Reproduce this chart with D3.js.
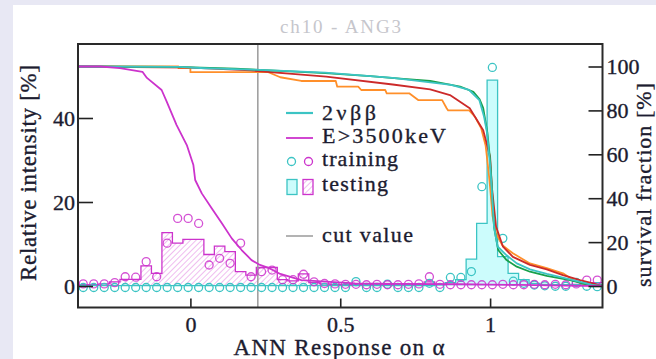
<!DOCTYPE html>
<html>
<head>
<meta charset="utf-8">
<script src="https://cdn.jsdelivr.net/npm/d3@7"></script>
<style>
  html, body { margin: 0; padding: 0; background: #e8e8f4; }
  svg { display: block; }
  text { font-family: "Liberation Serif", "DejaVu Serif", serif; }
</style>
</head>
<body>
<svg id="chart" width="656" height="359"></svg>
<script>
// ---- binning of the ANN response histograms ----
const binStart = -0.375;
const binWidth = 0.035;

// training samples (open circles), relative intensity [%] per bin
const trainSignal = [0,0,0,0,0,0,0,0,0,0, 0,0,0,0,0,0,0,0,0,0, 0,0,0,0,0,0,1.4,0,0,0.8,
                     0,0,0,1.0,0,2.4,2.4,3.8,24.0,52.4, 11.7,1.5,1.0,0.6,0.4,0.3,0.3,1.2,0.3,0.2];
const trainBackground = [0.5,0.5,0.5,0.8,2.2,2.1,5.8,2.2,10.2,16.1, 16.1,14.9,5.0,6.6,5.4,10.2,2.2,3.4,3.8,1.5,
                         1.5,2.8,1.0,0.6,0.5,0.4,0.4,0.3,0.4,0.3, 0.3,0.4,0.5,2.2,0.4,0.3,0.3,0.3,0.3,0.3,
                         0.4,0.3,0.3,0.4,0.3,0.4,0.3,0.5,1.4,1.4];

// testing samples (histograms), relative intensity [%] per bin
const testSignal = [0.1,0.1,0.1,0.1,0.1,0.1,0.1,0.1,0.1,0.1, 0.1,0.1,0.1,0.1,0.1,0.1,0.1,0.1,0.1,0.1,
                    0.1,0.1,0.1,0.1,0.1,0.1,0.1,0.1,0.1,0.1, 0.1,0.1,0.1,0.1,0.3,0.8,1.5,6.4,14.9,49.0,
                    7.0,3.0,1.5,0.6,0.4,0.3,0.3,0.3,0.3,0.3];
const testBackground = [0.3,0.3,0.5,1.0,1.6,1.6,4.8,3.0,12.7,10.2, 11.1,11.1,7.5,9.5,8.2,3.4,2.6,4.4,4.4,1.5,
                        1.2,2.9,0.8,0.5,0.4,0.3,0.3,0.3,0.3,0.3, 0.3,0.3,0.4,1.0,0.3,0.3,0.3,0.3,0.3,0.3,
                        0.3,0.3,0.3,0.3,0.3,0.3,0.3,0.4,0.8,0.8];

// survival fraction [%] vs. cut on the ANN response
const survSignalTest = [[-0.375,100],[-0.05,99.8],[0.15,99.0],[0.3,98.0],[0.45,97.0],[0.6,95.6],[0.7,94.5],
  [0.8,93.4],[0.9,90.8],[0.944,88.5],[0.965,85],[0.977,81],[0.991,69.7],[1.0,57.4],[1.005,47],[1.013,27],
  [1.027,16.4],[1.055,11.8],[1.089,8.8],[1.133,6.5],[1.189,4.6],[1.267,2.7],[1.343,0],[1.375,0]];
const survSignalTrain = [[-0.375,100],[-0.04,99.8],[0.05,99.2],[0.2,98.6],[0.45,97.2],[0.675,94.8],
  [0.87,91.6],[0.93,89.3],[0.964,84.7],[0.98,77],[0.99,69.7],[1.0,55],[1.005,45],[1.013,27],[1.025,18],
  [1.055,14],[1.089,10.3],[1.133,7.6],[1.189,5.5],[1.267,3],[1.34,0.5],[1.375,0]];
const survRefA = [[-0.375,100],[0.0,99.5],[0.2,98.2],[0.35,96.5],[0.453,95.4],[0.675,91.8],[0.8,89.6],
  [0.866,87],[0.932,81],[0.977,71],[1.0,58.9],[1.006,45],[1.02,27],[1.043,17.9],[1.076,13.3],[1.133,9.6],
  [1.189,7.6],[1.243,5],[1.3,2.7],[1.343,1.2],[1.375,0]];
const survRefB = [[-0.375,100],[-0.04,100],[-0.04,99.3],[0.0,99.3],[0.0,97.4],[0.26,97.4],[0.3,95.1],
  [0.37,93.4],[0.485,93.4],[0.49,90.8],[0.56,90.8],[0.57,89.3],[0.65,89.3],[0.655,87.8],[0.73,87.8],
  [0.76,84.7],[0.84,84.7],[0.855,81],[0.86,80],[0.93,80],[0.95,77],[0.97,72],[0.985,64],[0.995,52],
  [1.0,45],[1.008,32],[1.02,24],[1.04,18.7],[1.076,14.9],[1.133,10.3],[1.189,8.1],[1.243,5.8],
  [1.278,2.7],[1.32,0.5],[1.343,0],[1.375,0]];
const survBackground = [[-0.375,100],[-0.30,100],[-0.235,99.3],[-0.16,97.6],[-0.145,94.8],[-0.096,89.3],
  [-0.079,84],[-0.046,73.3],[-0.012,64.2],[0.010,55.1],[0.016,48.3],[0.038,42.2],[0.071,35.4],[0.105,28.6],
  [0.138,21.7],[0.171,16.4],[0.204,11.8],[0.232,9.6],[0.265,8.0],[0.30,5.5],[0.37,2.7],[0.45,2.0],
  [0.55,1.2],[0.7,1.0],[0.9,0.8],[1.0,0.6],[1.1,0.5],[1.25,0.2],[1.375,0]];

const cutValue = 0.225;

// axis ticks
const xTicks = [0, 0.5, 1];
const yLeftTicks = [0, 20, 40];
const yRightTicks = [0, 20, 40, 60, 80, 100];

// ---- layout ----
const svg = d3.select("#chart");
const frame = { left: 78, right: 602.5, top: 44, bottom: 307.5 };

const x = d3.scaleLinear().domain([-0.375, 1.375]).range([frame.left, frame.right]);
const yL = d3.scaleLinear().domain([-5.12, 57.62]).range([frame.bottom, frame.top]);
const yR = d3.scaleLinear().domain([-9.79, 110.25]).range([frame.bottom, frame.top]);

const col = {
  cyan: "#3cc4c4", cyanFill: "#ccfcfc", magenta: "#cc33cc", hatch: "#e590e5",
  green: "#16a04a", red: "#cc2a2a", orange: "#ff8f2a", text: "#1c1c30", cut: "#9a9a9a"
};

// white panel
svg.append("rect").attr("x", 13).attr("y", 5).attr("width", 656 - 13).attr("height", 359 - 5).attr("fill", "#ffffff");

const defs = svg.append("defs");
defs.append("clipPath").attr("id", "plotClip").append("rect")
  .attr("x", frame.left).attr("y", frame.top)
  .attr("width", frame.right - frame.left).attr("height", frame.bottom - frame.top);
const hatch = defs.append("pattern").attr("id", "hatch").attr("patternUnits", "userSpaceOnUse")
  .attr("width", 4).attr("height", 4).attr("patternTransform", "rotate(45)");
hatch.append("rect").attr("width", 4).attr("height", 4).attr("fill", "#ffffff");
hatch.append("line").attr("x1", 0).attr("y1", 0).attr("x2", 0).attr("y2", 4)
  .attr("stroke", col.hatch).attr("stroke-width", 1.2);

// title
svg.append("text").attr("x", 280).attr("y", 33).attr("font-size", 19)
  .attr("textLength", 121).attr("lengthAdjust", "spacing")
  .attr("fill", "#c6c6cc").text("ch10 - ANG3");

const plot = svg.append("g").attr("clip-path", "url(#plotClip)");

// histogram helpers
const binPoints = vals => {
  const pts = vals.map((v, k) => ({ e: binStart + k * binWidth, v }));
  pts.push({ e: binStart + vals.length * binWidth, v: vals[vals.length - 1] });
  return pts;
};
const histArea = d3.area().curve(d3.curveStepAfter)
  .x(d => x(d.e)).y0(yL(0)).y1(d => yL(d.v));
const histLine = d3.line().curve(d3.curveStepAfter)
  .x(d => x(d.e)).y(d => yL(d.v));

// testing histograms
plot.append("path").datum(binPoints(testBackground)).attr("d", histArea).attr("fill", "url(#hatch)");
plot.append("path").datum(binPoints(testBackground)).attr("d", histLine)
  .attr("fill", "none").attr("stroke", col.magenta).attr("stroke-width", 1.3);
plot.append("path").datum(binPoints(testSignal)).attr("d", histArea).attr("fill", col.cyanFill);
plot.append("path").datum(binPoints(testSignal)).attr("d", histLine)
  .attr("fill", "none").attr("stroke", col.cyan).attr("stroke-width", 1.3);

// cut value
plot.append("line").attr("x1", x(cutValue)).attr("x2", x(cutValue))
  .attr("y1", frame.top).attr("y2", frame.bottom)
  .attr("stroke", col.cut).attr("stroke-width", 1.5);

// training samples
const binCenter = k => binStart + (k + 0.5) * binWidth;
plot.append("g").selectAll("circle").data(trainSignal).join("circle")
  .attr("cx", (d, k) => x(binCenter(k))).attr("cy", d => yL(d) + 1.5).attr("r", 4)
  .attr("fill", "none").attr("stroke", col.cyan).attr("stroke-width", 1.3);
plot.append("g").selectAll("circle").data(trainBackground).join("circle")
  .attr("cx", (d, k) => x(binCenter(k))).attr("cy", d => yL(d)).attr("r", 4)
  .attr("fill", "none").attr("stroke", col.magenta).attr("stroke-width", 1.3).attr("stroke-opacity", 0.85);

// survival fraction curves (right axis)
const surv = d3.line().x(d => x(d[0])).y(d => yR(d[1]));
[[survRefB, col.orange], [survRefA, col.red], [survSignalTest, col.green],
 [survSignalTrain, col.cyan], [survBackground, col.magenta]].forEach(([data, c]) => {
  plot.append("path").datum(data).attr("d", surv)
    .attr("fill", "none").attr("stroke", c).attr("stroke-width", 1.8).attr("stroke-linejoin", "round");
});

// axes
const styleAxis = g => {
  g.select(".domain").remove();
  g.selectAll(".tick line").attr("stroke", "#222").attr("stroke-width", 1.6);
  g.selectAll(".tick text").attr("fill", col.text).attr("font-size", 22)
    .attr("font-family", "'Liberation Serif', serif")
    .attr("stroke", col.text).attr("stroke-width", 0.35);
};
svg.append("g").attr("transform", `translate(${frame.left},0)`)
  .call(d3.axisLeft(yL).tickValues(yLeftTicks).tickSize(-15).tickPadding(3).tickFormat(d3.format("d")))
  .call(styleAxis);
svg.append("g").attr("transform", `translate(${frame.right},0)`)
  .call(d3.axisRight(yR).tickValues(yRightTicks).tickSize(-14).tickPadding(4).tickFormat(d3.format("d")))
  .call(styleAxis);
svg.append("g").attr("transform", `translate(0,${frame.bottom})`)
  .call(d3.axisBottom(x).tickValues(xTicks).tickSize(-9).tickPadding(9).tickFormat(d => String(d)))
  .call(styleAxis);

// frame
svg.append("rect").attr("x", frame.left).attr("y", frame.top)
  .attr("width", frame.right - frame.left).attr("height", frame.bottom - frame.top)
  .attr("fill", "none").attr("stroke", "#2a2a2a").attr("stroke-width", 2);

// axis titles
const title = (sel, size, len) => sel.attr("font-size", size).attr("fill", col.text)
  .attr("stroke", col.text).attr("stroke-width", 0.35)
  .attr("textLength", len).attr("lengthAdjust", "spacing");
svg.append("text").attr("transform", "translate(36,173) rotate(-90)")
  .attr("text-anchor", "middle").call(title, 23, 216).text("Relative intensity [%]");
svg.append("text").attr("transform", "translate(651,185) rotate(-90)")
  .attr("text-anchor", "middle").call(title, 22, 204).text("survival fraction [%]");
svg.append("text").attr("x", 339).attr("y", 355)
  .attr("text-anchor", "middle").call(title, 23, 211).text("ANN Response on α");

// legend
const leg = svg.append("g");
const legText = (y, label, w) => leg.append("text").attr("x", 322).attr("y", y)
  .call(title, 22, w).text(label);
leg.append("line").attr("x1", 286).attr("x2", 313).attr("y1", 113).attr("y2", 113)
  .attr("stroke", col.cyan).attr("stroke-width", 2.2);
legText(120, "2νββ", 54);
leg.append("line").attr("x1", 286).attr("x2", 313).attr("y1", 138).attr("y2", 138)
  .attr("stroke", col.magenta).attr("stroke-width", 1.8);
legText(143, "E>3500keV", 124);
leg.append("circle").attr("cx", 291.5).attr("cy", 161.5).attr("r", 4)
  .attr("fill", "none").attr("stroke", col.cyan).attr("stroke-width", 1.3);
leg.append("circle").attr("cx", 308.5).attr("cy", 161.5).attr("r", 4)
  .attr("fill", "none").attr("stroke", col.magenta).attr("stroke-width", 1.3);
legText(166, "training", 76);
leg.append("rect").attr("x", 287).attr("y", 179.5).attr("width", 10).attr("height", 15)
  .attr("fill", col.cyanFill).attr("stroke", col.cyan).attr("stroke-width", 1.3);
leg.append("rect").attr("x", 303).attr("y", 179.5).attr("width", 10).attr("height", 15)
  .attr("fill", "url(#hatch)").attr("stroke", col.magenta).attr("stroke-width", 1.3);
legText(191, "testing", 66);
leg.append("line").attr("x1", 286).attr("x2", 313).attr("y1", 236).attr("y2", 236)
  .attr("stroke", col.cut).attr("stroke-width", 1.5);
legText(242, "cut value", 91);
</script>
</body>
</html>
